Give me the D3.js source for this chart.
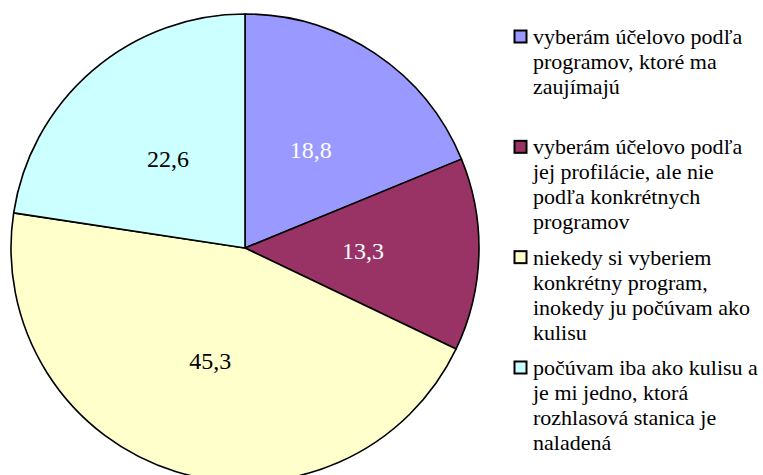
<!DOCTYPE html>
<html>
<head>
<meta charset="utf-8">
<script src="https://cdn.jsdelivr.net/npm/d3@7"></script>
</head>
<body style="margin:0">
<div id="main-vis"></div>
<script>
// chart data
const categories = [
    ['vyberám účelovo podľa', 'programov, ktoré ma', 'zaujímajú'],
    ['vyberám účelovo podľa', 'jej profilácie, ale nie', 'podľa konkrétnych', 'programov'],
    ['niekedy si vyberiem', 'konkrétny program,', 'inokedy ju počúvam ako', 'kulisu'],
    ['počúvam iba ako kulisu a', 'je mi jedno, ktorá', 'rozhlasová stanica je', 'naladená']
]
const values = [18.8, 13.3, 45.3, 22.6]
const colors = ['#9999FF', '#993366', '#FFFFCC', '#CCFFFF']
const labelColors = ['#fff', '#fff', '#000', '#000']

const width = 763, height = 475
const cx = 245, cy = 248, r = 234

const svg = d3.select('#main-vis').append('svg')
    .attr('width', width)
    .attr('height', height)

const pie = d3.pie().sort(null).value(d => d)
const arcs = pie(values)
const arc = d3.arc().innerRadius(0).outerRadius(r)
const labelArc = d3.arc().innerRadius(r / 2 + 1).outerRadius(r / 2 + 1)

const g = svg.append('g').attr('transform', `translate(${cx},${cy})`)

g.selectAll('path')
    .data(arcs)
    .join('path')
        .attr('d', arc)
        .attr('fill', (d, i) => colors[i])
        .attr('stroke', '#000')
        .attr('stroke-width', 1.6)
        .attr('stroke-linejoin', 'round')

// decimal comma
const fmt = v => d3.format('.1f')(v).replace('.', ',')

g.selectAll('text')
    .data(arcs)
    .join('text')
        .attr('x', d => labelArc.centroid(d)[0])
        .attr('y', d => labelArc.centroid(d)[1] + 8)
        .attr('text-anchor', 'middle')
        .attr('font-size', 24)
        .style('font-family', '"Liberation Serif"')
        .attr('fill', (d, i) => labelColors[i])
        .text(d => fmt(d.data))

// legend, one text per line
const ly = d3.scalePoint().domain(d3.range(categories.length)).range([37, 368])
const lineH = 25

const leg = svg.selectAll('g.leg')
    .data(categories)
    .join('g')
        .attr('class', 'leg')
        .attr('transform', (d, i) => `translate(514,${ly(i)})`)

leg.append('rect')
    .attr('x', 0.5)
    .attr('y', -6.5)
    .attr('width', 12)
    .attr('height', 12)
    .attr('fill', (d, i) => colors[i])
    .attr('stroke', '#000')
    .attr('stroke-width', 2)

leg.selectAll('text')
    .data(d => d)
    .join('text')
        .attr('x', 19)
        .attr('y', (d, j) => j * lineH + 7)
        .attr('font-size', 22)
        .style('font-family', '"Liberation Serif"')
        .attr('fill', '#000')
        .text(d => d)
</script>
</body>
</html>
